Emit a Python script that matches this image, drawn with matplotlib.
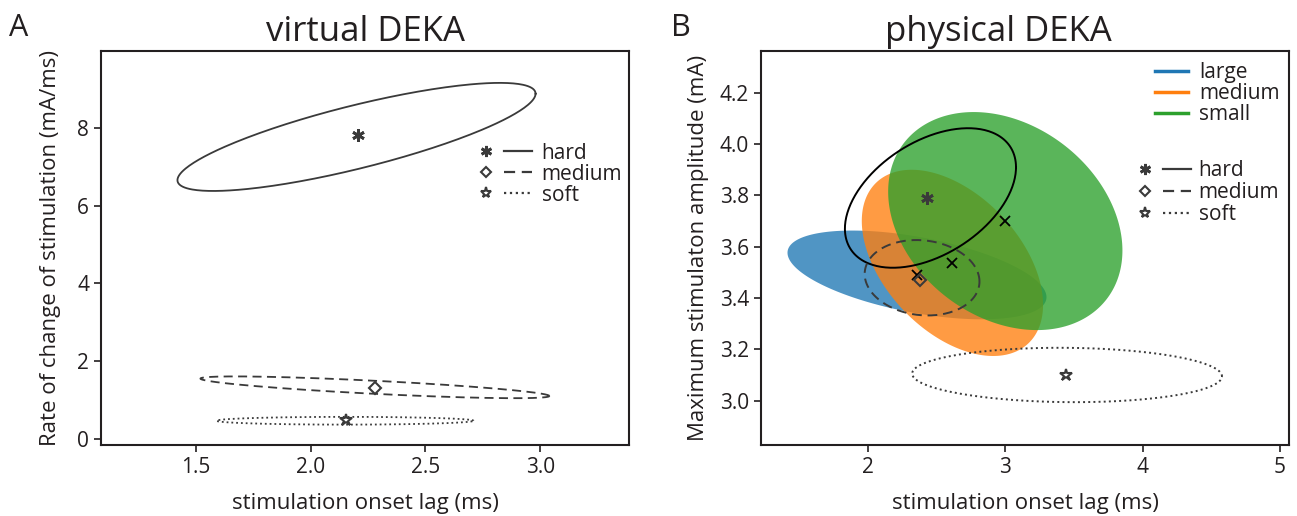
import numpy as np
import matplotlib
matplotlib.use('Agg')
import matplotlib.pyplot as plt
from matplotlib.lines import Line2D
from matplotlib.legend_handler import HandlerTuple

plt.rcParams['font.family'] = ['Open Sans', 'DejaVu Sans']

# virtual DEKA: stiffness ellipses (center, half widths, correlation) and means
a_levels = ['hard', 'medium', 'soft']
a_cx = [2.20, 2.28, 2.15]
a_cy = [7.77, 1.33, 0.47]
a_rx = [0.78, 0.76, 0.56]
a_ry = [1.39, 0.28, 0.10]
a_rho = [0.80, -0.80, 0.0]
a_mx = [2.205, 2.28, 2.155]
a_my = [7.83, 1.31, 0.48]

# physical DEKA: object size ellipses
b_sizes = ['large', 'medium', 'small']
b_size_cx = [2.357, 2.615, 3.00]
b_size_cy = [3.490, 3.537, 3.70]
b_size_rx = [0.943, 0.660, 0.853]
b_size_ry = [0.173, 0.363, 0.425]
b_size_rho = [-0.50, -0.45, -0.27]

# physical DEKA: stiffness ellipses
b_cx = [2.455, 2.394, 3.45]
b_cy = [3.790, 3.479, 3.10]
b_rx = [0.623, 0.418, 1.128]
b_ry = [0.272, 0.147, 0.106]
b_rho = [0.44, -0.10, -0.05]
b_mx = [2.433, 2.382, 3.444]
b_my = [3.788, 3.470, 3.098]

styles = ['-', (0, (5, 3)), ':']
marks = [(6, 2, 0), 'D', '*']
msizes = [9, 6.5, 9]
size_colors = ['#1f77b4', '#ff7f0e', '#2ca02c']
txt = '#231f20'
lc = '#3a3a3a'


def ellipse(cx, cy, rx, ry, rho):
    t = np.linspace(0, 2 * np.pi, 300)
    x = cx + rx * np.cos(t)
    y = cy + ry * (rho * np.cos(t) + np.sqrt(1 - rho ** 2) * np.sin(t))
    return x, y


fig = plt.figure(figsize=(12.97, 5.16), dpi=100)
axA = fig.add_axes([101 / 1297, 1 - 445 / 516, 528 / 1297, 394 / 516])
axB = fig.add_axes([761 / 1297, 1 - 445 / 516, 528 / 1297, 394 / 516])

# --- A ---
for i in range(3):
    x, y = ellipse(a_cx[i], a_cy[i], a_rx[i], a_ry[i], a_rho[i])
    axA.plot(x, y, color=lc, lw=1.3, ls=styles[i])
    axA.plot(a_mx[i], a_my[i], marker=marks[i], ms=msizes[i], mfc='none',
             mec=lc, mew=1.5 if i != 0 else 2, ls='none')

axA.set_xlim(1.087, 3.387)
axA.set_ylim(-0.154, 9.98)
axA.set_xticks([1.5, 2.0, 2.5, 3.0])
axA.set_yticks([0, 2, 4, 6, 8])
axA.set_xlabel('stimulation onset lag (ms)', fontsize=16, color=txt, labelpad=11)
axA.set_ylabel('Rate of change of stimulation (mA/ms)', fontsize=16, color=txt, labelpad=12)
axA.set_title('virtual DEKA', fontsize=25, color=txt, pad=7)

# --- B ---
for i in range(3):
    x, y = ellipse(b_size_cx[i], b_size_cy[i], b_size_rx[i], b_size_ry[i], b_size_rho[i])
    axB.fill(x, y, color=size_colors[i], alpha=0.78, lw=0)
for i in range(3):
    axB.plot(b_size_cx[i], b_size_cy[i], marker='x', ms=7, mew=1.3, color='black', ls='none')
for i in range(3):
    x, y = ellipse(b_cx[i], b_cy[i], b_rx[i], b_ry[i], b_rho[i])
    axB.plot(x, y, color='black' if i == 0 else lc, lw=1.4, ls=styles[i])
    axB.plot(b_mx[i], b_my[i], marker=marks[i], ms=msizes[i], mfc='none',
             mec=lc, mew=1.5 if i != 0 else 2, ls='none')

axB.set_xlim(1.221, 5.066)
axB.set_ylim(2.827, 4.363)
axB.set_xticks([2, 3, 4, 5])
axB.set_yticks([3.0, 3.2, 3.4, 3.6, 3.8, 4.0, 4.2])
axB.set_yticklabels(['3.0', '3.2', '3.4', '3.6', '3.8', '4.0', '4.2'])
axB.set_xlabel('stimulation onset lag (ms)', fontsize=16, color=txt, labelpad=11)
axB.set_ylabel('Maximum stimulaton amplitude (mA)', fontsize=16, color=txt, labelpad=8)
axB.set_title('physical DEKA', fontsize=25, color=txt, pad=7, x=0.449)

for ax in (axA, axB):
    ax.tick_params(labelsize=15, labelcolor=txt, color=txt, width=1.2, length=5)
    for s in ax.spines.values():
        s.set_linewidth(1.5)
        s.set_color(txt)

# legends
stiff_handles = []
for i in range(3):
    m = Line2D([], [], marker=marks[i], ms=msizes[i] - 1, mfc='none', mec=lc,
               mew=1.5 if i != 0 else 2, ls='none')
    l = Line2D([], [], color=lc, lw=1.6, ls=styles[i])
    stiff_handles.append((m, l))

axA.legend(stiff_handles, a_levels, handler_map={tuple: HandlerTuple(ndivide=None, pad=0.2)},
           loc='upper left', bbox_to_anchor=(0.667, 0.815), frameon=False, fontsize=15,
           handlelength=2.9, handletextpad=0.45, labelspacing=0.0, labelcolor=txt)

size_handles = [Line2D([], [], color=c, lw=2.5) for c in size_colors]
legB1 = axB.legend(size_handles, b_sizes, loc='upper left', bbox_to_anchor=(0.71, 1.02),
                   frameon=False, fontsize=15, handlelength=1.6, handletextpad=0.55,
                   labelspacing=0.0, labelcolor=txt)
axB.add_artist(legB1)
axB.legend(stiff_handles, a_levels, handler_map={tuple: HandlerTuple(ndivide=None, pad=0.2)},
           loc='upper left', bbox_to_anchor=(0.665, 0.77), frameon=False, fontsize=15,
           handlelength=2.9, handletextpad=0.35, labelspacing=0.05, labelcolor=txt)

fig.text(9 / 1297, 1 - 36 / 516, 'A', fontsize=22, color=txt)
fig.text(671 / 1297, 1 - 36 / 516, 'B', fontsize=22, color=txt)

fig.savefig('out.png', dpi=100)
